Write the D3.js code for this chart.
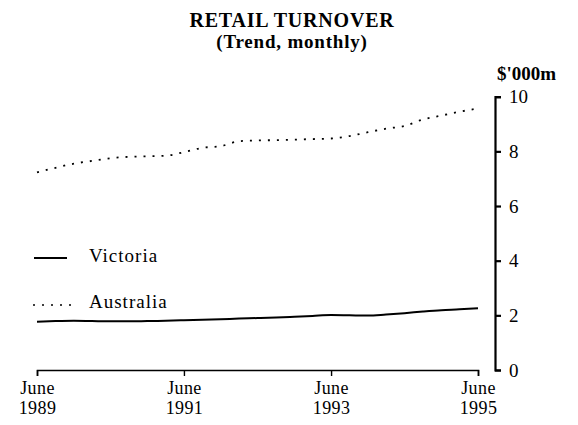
<!DOCTYPE html>
<html>
<head>
<meta charset="utf-8">
<script src="https://cdn.jsdelivr.net/npm/d3@7"></script>
<style>
  html, body { margin: 0; padding: 0; background: #fff; }
  svg { display: block; }
  text { font-family: "Liberation Serif", "Times New Roman", serif; fill: #000; }
</style>
</head>
<body>
<svg id="chart" width="578" height="425"></svg>
<script>
// ---- Data ----
const dates = ["1989-06","1989-09","1989-12","1990-03","1990-06","1990-09","1990-12","1991-03",
  "1991-06","1991-09","1991-12","1992-03","1992-06","1992-09","1992-12","1993-03",
  "1993-06","1993-09","1993-12","1994-03","1994-06","1994-09","1994-12","1995-03","1995-06"];
const australia = [7.23,7.40,7.55,7.65,7.75,7.80,7.82,7.84,7.97,8.13,8.19,8.37,8.40,8.41,8.43,8.45,
  8.47,8.56,8.70,8.83,8.93,9.17,9.31,9.45,9.57];
const victoria = [1.77,1.79,1.80,1.79,1.78,1.78,1.79,1.80,1.82,1.84,1.86,1.88,1.90,1.92,1.95,1.98,
  2.01,2.00,1.99,2.03,2.08,2.14,2.19,2.22,2.26];
const xTickDates = ["1989-06","1991-06","1993-06","1995-06"];
const xTickLabels = [["June","1989"],["June","1991"],["June","1993"],["June","1995"]];
const yTicks = [0,2,4,6,8,10];
const seriesNames = ["Victoria","Australia"];
const title = "RETAIL TURNOVER";
const subtitle = "(Trend, monthly)";
const unitLabel = "$'000m";

// ---- Layout ----
const parse = d3.timeParse("%Y-%m");
const svg = d3.select("#chart");

const x = d3.scaleTime()
  .domain([parse("1989-06"), parse("1995-06")])
  .range([37, 478]);
const y = d3.scaleLinear().domain([0, 10]).range([370, 96.7]);

// Title
svg.append("text").attr("x", 292).attr("y", 27).attr("text-anchor", "middle")
  .attr("font-weight", "bold").attr("font-size", 20).attr("letter-spacing", 0.8)
  .text(title);
svg.append("text").attr("x", 292).attr("y", 48).attr("text-anchor", "middle")
  .attr("font-weight", "bold").attr("font-size", 19).attr("letter-spacing", 0.8)
  .text(subtitle);

// Unit label
svg.append("text").attr("x", 497).attr("y", 80)
  .attr("font-weight", "bold").attr("font-size", 19)
  .text(unitLabel);

// Y axis (right side)
const yAxis = d3.axisRight(y).tickValues(yTicks).tickSize(6).tickSizeOuter(6).tickPadding(8)
  .tickFormat(d3.format("d"));
const gy = svg.append("g").attr("transform", "translate(495,0)").call(yAxis);
gy.select(".domain").attr("stroke", "#000").attr("stroke-width", 2.2);
gy.selectAll(".tick line").attr("stroke", "#000").attr("stroke-width", 2.2);
gy.selectAll(".tick text").attr("font-family", "Liberation Serif, serif")
  .attr("font-size", 19).attr("fill", "#000");

// X axis
const xTicks = xTickDates.map(parse);
const xAxis = d3.axisBottom(x).tickValues(xTicks).tickSize(6).tickSizeOuter(6).tickFormat("");
const gx = svg.append("g").attr("transform", "translate(0,370)").call(xAxis);
gx.select(".domain").attr("stroke", "#000").attr("stroke-width", 1.6);
gx.selectAll(".tick line").attr("stroke", "#000").attr("stroke-width", 1.4);
gx.selectAll(".tick").each(function(d, i) {
  const t = d3.select(this).append("text").attr("text-anchor", "middle")
    .attr("font-size", 18).attr("fill", "#000").attr("letter-spacing", 0.4);
  t.append("tspan").attr("x", 0).attr("y", 24).text(xTickLabels[i][0]);
  t.append("tspan").attr("x", 0).attr("y", 44).text(xTickLabels[i][1]);
});

// Lines
const data = dates.map((d, i) => ({ date: parse(d), aus: australia[i], vic: victoria[i] }));
const lineAus = d3.line().x(d => x(d.date)).y(d => y(d.aus)).curve(d3.curveMonotoneX);
const lineVic = d3.line().x(d => x(d.date)).y(d => y(d.vic)).curve(d3.curveMonotoneX);

svg.append("path").datum(data).attr("d", lineAus)
  .attr("fill", "none").attr("stroke", "#000").attr("stroke-width", 1.8)
  .attr("stroke-dasharray", "2,7");
svg.append("path").datum(data).attr("d", lineVic)
  .attr("fill", "none").attr("stroke", "#000").attr("stroke-width", 2);

// Legend
const legend = svg.append("g");
legend.append("line").attr("x1", 34).attr("x2", 67).attr("y1", 258).attr("y2", 258)
  .attr("stroke", "#000").attr("stroke-width", 2);
legend.append("text").attr("x", 89).attr("y", 262).attr("font-size", 19)
  .attr("letter-spacing", 1).text(seriesNames[0]);
legend.append("line").attr("x1", 33).attr("x2", 72).attr("y1", 305).attr("y2", 305)
  .attr("stroke", "#000").attr("stroke-width", 1.6).attr("stroke-dasharray", "2,7");
legend.append("text").attr("x", 89).attr("y", 308).attr("font-size", 19)
  .attr("letter-spacing", 1).text(seriesNames[1]);
</script>
</body>
</html>
